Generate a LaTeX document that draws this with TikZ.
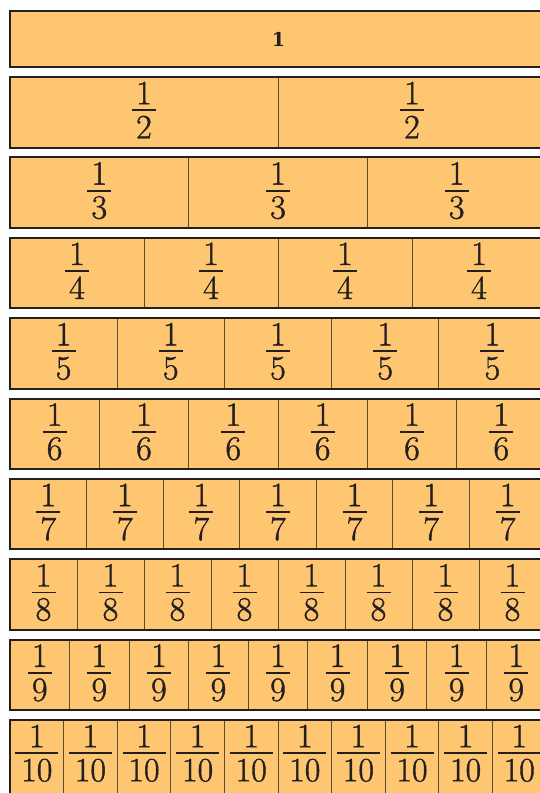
\documentclass[tikz,border=0pt]{standalone}
\usepackage{fontspec}
\newfontfamily\digfont[FakeBold=1.2]{Latin Modern Roman}
\newfontfamily\onefont{DejaVu Serif}
\begin{document}
\begin{tikzpicture}[x=1pt,y=-1pt]
\definecolor{barfill}{RGB}{254,198,112}
\definecolor{ink}{RGB}{35,31,32}
\definecolor{divc}{RGB}{90,75,55}
\tikzset{
  barfillst/.style={fill=barfill},
  barborder/.style={draw=ink, line width=2pt},
  divider/.style={draw=divc, line width=1pt},
  num/.style={anchor=base, inner sep=0pt, text=ink, font=\digfont\fontsize{34}{40}\selectfont},
  fbar/.style={draw=ink, line width=1.8pt}
}
\useasboundingbox (0,0) rectangle (540,793);
\clip (0,0) rectangle (540,793);
% row 1
\fill[barfillst] (10,11) rectangle (546,66.5);
\draw[barborder] (10,11) rectangle (546,66.5);
\node[anchor=base, inner sep=0pt, text=ink, font=\onefont\bfseries\fontsize{19}{22}\selectfont] (one) at (278.5,46) {1};
% rows 2..10
\foreach \n in {2,...,10} {
  \pgfmathsetmacro\rt{77+(\n-2)*80.375}
  \pgfmathsetmacro\rb{\n==10 ? 805 : \rt+70.5}
  \pgfmathsetmacro\w{536/\n}
  \pgfmathsetmacro\by{\rt+33.25}
  \pgfmathsetmacro\hw{\n==10 ? 21.5 : 12}
  \fill[barfillst] (10,\rt) rectangle (546,\rb);
  \foreach \i in {1,...,\n} {
    \pgfmathsetmacro\cx{10+(\i-0.5)*\w}
    \pgfmathsetmacro\dx{10+\i*\w}
    \ifnum\i<\n
      \draw[divider] (\dx,\rt) -- (\dx,\rb);
    \fi
    \node[num] (n\n-\i) at (\cx,\by-6) {1};
    \node[num] (d\n-\i) at (\cx,\by+28) {\n};
    \draw[fbar] (\cx-\hw,\by) -- (\cx+\hw,\by);
  }
  \draw[barborder] (10,\rt) rectangle (546,\rb);
}
\end{tikzpicture}
\end{document}
